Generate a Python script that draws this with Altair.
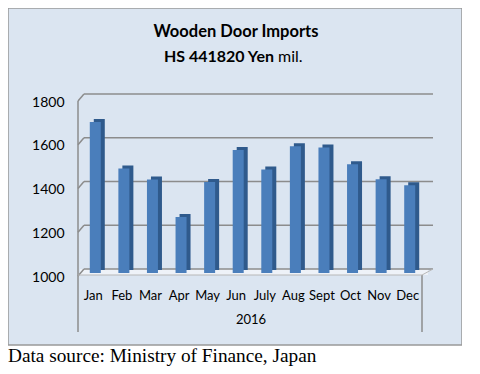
import altair as alt
import pandas as pd

months = ["Jan", "Feb", "Mar", "Apr", "May", "Jun", "July", "Aug", "Sept", "Oct", "Nov", "Dec"]
values = [1690, 1478, 1428, 1256, 1416, 1562, 1473, 1580, 1574, 1497, 1429, 1401]
grid_values = [1000, 1200, 1400, 1600, 1800]

df = pd.DataFrame({"month": months, "value": values})
grid_df = pd.DataFrame({"v": grid_values})

W, H = 454, 337
FONT = "Lato"

yscale = alt.Scale(domain=[1000, 1800], range=[265, 90], clamp=True)
xscale = alt.Scale(domain=months, range=[71, 414], paddingInner=0, paddingOuter=0)

yaxis = alt.Axis(orient="left", offset=-62, domain=False, ticks=False, grid=False,
                 values=grid_values, format="d", labelFont=FONT, labelFontSize=14, labelColor="#000",
                 labelPadding=6, labelOffset=4, title=None)
xaxis = alt.Axis(orient="bottom", offset=-60, domain=False, ticks=False, grid=False,
                 labelAngle=0, labelFont=FONT, labelFontSize=13, labelColor="#000",
                 labelPadding=4, title="2016", titleFont=FONT, titleFontSize=13,
                 titleFontWeight="normal", titleColor="#000", titlePadding=11)

one = alt.Data(values=[{}])

floor = alt.Chart(one).mark_rect(color="#eef2f8").encode(
    x=alt.value(72), x2=alt.value(420), y=alt.value(261), y2=alt.value(267))

grid = alt.Chart(grid_df).mark_rule(color="#8c8c8c", strokeWidth=1.5, yOffset=-4).encode(
    y=alt.Y("v:Q", scale=yscale, axis=yaxis), x=alt.value(76), x2=alt.value(425))

stubs = alt.Chart(grid_df).mark_rule(color="#8c8c8c", strokeWidth=1.5, yOffset=-4, y2Offset=3).encode(
    y=alt.Y("v:Q", scale=yscale, axis=yaxis), y2=alt.Y2("v"), x=alt.value(76), x2=alt.value(70))

wall = alt.Chart(one).mark_rule(color="#8c8c8c", strokeWidth=1.5).encode(
    x=alt.value(70), y=alt.value(93), y2=alt.value(324))
right_v = alt.Chart(one).mark_rule(color="#8c8c8c", strokeWidth=1.5).encode(
    x=alt.value(414), y=alt.value(267), y2=alt.value(324))
floor_front = alt.Chart(one).mark_rule(color="#b8b8b8", strokeWidth=1).encode(
    x=alt.value(70), x2=alt.value(414), y=alt.value(267))
floor_right = alt.Chart(one).mark_rule(color="#b8b8b8", strokeWidth=1).encode(
    x=alt.value(414), x2=alt.value(425), y=alt.value(267), y2=alt.value(261))

side = alt.Chart(df).mark_bar(color="#2f5a8c", width=11, xOffset=6, yOffset=-3, y2Offset=-3).encode(
    x=alt.X("month:N", sort=months, scale=xscale, axis=xaxis),
    y=alt.Y("value:Q", scale=yscale, axis=yaxis), y2=alt.datum(1000))

front = alt.Chart(df).mark_bar(color="#4a7ebb", width=11, xOffset=2).encode(
    x=alt.X("month:N", sort=months, scale=xscale, axis=xaxis),
    y=alt.Y("value:Q", scale=yscale, axis=yaxis), y2=alt.datum(1000))

title1 = alt.Chart(one).mark_text(text="Wooden Door Imports", font=FONT, fontSize=16.5,
                                  fontWeight="bold", color="#000", align="center", baseline="middle").encode(
    x=alt.value(228), y=alt.value(24))
title2a = alt.Chart(one).mark_text(text="HS 441820  Yen", font=FONT, fontSize=16,
                                   fontWeight="bold", color="#000", align="right", baseline="middle").encode(
    x=alt.value(266), y=alt.value(49))
title2b = alt.Chart(one).mark_text(text="mil.", font=FONT, fontSize=16,
                                   fontWeight="normal", color="#000", align="left", baseline="middle").encode(
    x=alt.value(270), y=alt.value(49))
caption = alt.Chart(one).mark_text(text="Data source: Ministry of Finance, Japan", font="Liberation Serif",
                                   fontSize=19.3, color="#000", align="left", baseline="alphabetic").encode(
    x=alt.value(0), y=alt.value(354))

chart = alt.layer(
    floor, grid, stubs, wall, right_v, floor_front, floor_right, side, front,
    title1, title2a, title2b, caption
).properties(width=W, height=H, padding=0, background="white").configure_view(
    fill="#dbe5f1", stroke="#999999", strokeWidth=1.5)

chart.save("out.html", embed_options={"renderer": "svg", "actions": False})
